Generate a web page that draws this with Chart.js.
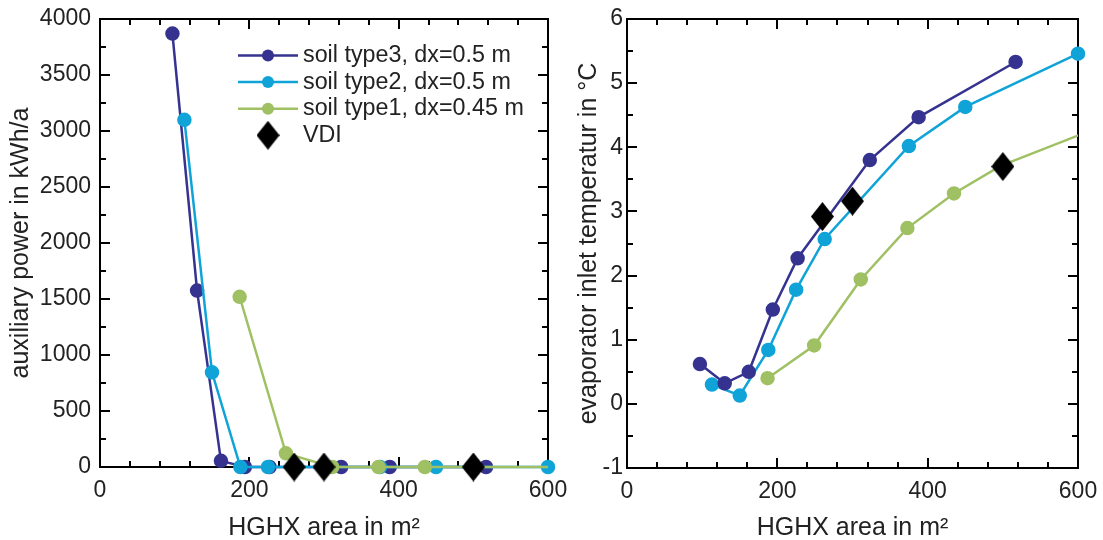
<!DOCTYPE html>
<html>
<head>
<meta charset="utf-8">
<script src="https://cdn.jsdelivr.net/npm/chart.js@4.4.1/dist/chart.umd.min.js"></script>
<style>
  body { margin: 0; background: #fff; }
  #left-box { position: absolute; left: 0; top: 0; width: 580px; height: 540px; }
  #right-box { position: absolute; left: 560px; top: 0; width: 543px; height: 540px; }
</style>
</head>
<body>
<div id="left-box"><canvas id="aux-power"></canvas></div>
<div id="right-box"><canvas id="evap-temp"></canvas></div>
<script>
// HGHX area (m2) per simulation run
const areaType3 = [97, 130, 162, 194, 227, 323, 388, 517];
const areaType2 = [113, 150, 188, 225, 263, 375, 450, 600];
const areaType1 = [187, 249, 311, 373, 435, 497, 621];
const areaVdi = [260, 300, 500];

// auxiliary power in kWh/a
const auxType3 = [3870, 1575, 55, 0, 0, 0, 0, 0];
const auxType2 = [3100, 845, 0, 0, 0, 0, 0, 0];
const auxType1 = [1520, 122, 0, 0, 0, 0, 0];
const auxVdi = [0, 0, 0];

// evaporator inlet temperature in degC
const tempType3 = [0.62, 0.32, 0.50, 1.47, 2.27, 3.80, 4.47, 5.33];
const tempType2 = [0.30, 0.13, 0.84, 1.78, 2.57, 4.02, 4.63, 5.46];
const tempType1 = [0.40, 0.91, 1.94, 2.74, 3.28, 3.71, 4.28];
const tempVdi = [2.92, 3.16, 3.70];

const labels = ['soil type3, dx=0.5 m', 'soil type2, dx=0.5 m', 'soil type1, dx=0.45 m', 'VDI'];
const xTicks = [0, 200, 400, 600];

const FONT = '"Liberation Sans", Arial, sans-serif';
const colors = ['#35338f', '#10a3d8', '#9fc063'];

function makeDiamond(w, h) {
  const c = document.createElement('canvas');
  c.width = w; c.height = h;
  const g = c.getContext('2d');
  g.fillStyle = '#000';
  g.beginPath();
  g.moveTo(w / 2, 0); g.lineTo(w, h / 2); g.lineTo(w / 2, h); g.lineTo(0, h / 2);
  g.closePath();
  g.fill();
  return c;
}
const diamond = makeDiamond(23, 29);

const zip = (xs, ys) => xs.map((x, i) => ({x: x, y: ys[i]}));

function lineSet(label, color, xs, ys, order) {
  return {
    label: label,
    data: zip(xs, ys),
    showLine: true,
    borderColor: color,
    backgroundColor: color,
    pointBackgroundColor: color,
    pointBorderColor: color,
    borderWidth: 2.5,
    pointRadius: 6,
    pointHoverRadius: 6,
    order: order,
    clip: false
  };
}

function vdiSet(ys) {
  return {label: labels[3], data: zip(areaVdi, ys), pointStyle: diamond, pointRadius: 12, order: 0, clip: false};
}

// box with inward ticks on all four sides
const frameTicks = {
  id: 'frameTicks',
  beforeDatasetsDraw(chart, args, opts) {
    const {ctx, chartArea: {left, right, top, bottom}, scales: {x, y}} = chart;
    const isMajor = (v, m) => Math.abs(v / m - Math.round(v / m)) < 1e-6;
    ctx.save();
    ctx.strokeStyle = '#000';
    ctx.lineWidth = 2;
    ctx.strokeRect(left, top, right - left, bottom - top);
    ctx.beginPath();
    for (let v = x.min; v <= x.max + 1e-9; v += opts.xMinor) {
      const px = Math.round(x.getPixelForValue(v));
      const len = isMajor(v, opts.xMajor) ? 10 : 6;
      ctx.moveTo(px, bottom); ctx.lineTo(px, bottom - len);
      ctx.moveTo(px, top); ctx.lineTo(px, top + len);
    }
    for (let v = y.min; v <= y.max + 1e-9; v += opts.yMinor) {
      const py = Math.round(y.getPixelForValue(v));
      const len = isMajor(v, opts.yMajor) ? 10 : 6;
      ctx.moveTo(left, py); ctx.lineTo(left + len, py);
      ctx.moveTo(right, py); ctx.lineTo(right - len, py);
    }
    ctx.stroke();
    ctx.restore();
  }
};

// legend drawn inside the plot: line + dot sample, or the diamond
const insideLegend = {
  id: 'insideLegend',
  afterDatasetsDraw(chart, args, opts) {
    if (!opts.display) return;
    const {ctx} = chart;
    ctx.save();
    ctx.font = '23.3px ' + FONT;
    ctx.textBaseline = 'middle';
    labels.forEach((text, i) => {
      const ds = chart.data.datasets.find(d => d.label === text);
      const y = opts.top + i * opts.rowHeight;
      const x0 = opts.left;
      if (ds.showLine) {
        ctx.strokeStyle = ds.borderColor;
        ctx.lineWidth = ds.borderWidth;
        ctx.beginPath(); ctx.moveTo(x0, y); ctx.lineTo(x0 + 60, y); ctx.stroke();
        ctx.fillStyle = ds.pointBackgroundColor;
        ctx.beginPath(); ctx.arc(x0 + 30, y, 6, 0, Math.PI * 2); ctx.fill();
      } else {
        ctx.drawImage(diamond, x0 + 30 - diamond.width / 2, y - diamond.height / 2);
      }
      ctx.fillStyle = '#222';
      ctx.fillText(text, x0 + 65, y);
    });
    ctx.restore();
  }
};

function xScale(height) {
  return {
    type: 'linear',
    min: 0, max: 600,
    afterBuildTicks: s => { s.ticks = xTicks.map(v => ({value: v})); },
    afterFit: s => { s.height = height; s.paddingLeft = 0; s.paddingRight = 0; },
    grid: {display: false, drawTicks: false},
    border: {display: false},
    ticks: {font: {family: FONT, size: 23}, color: '#222', padding: 10, maxRotation: 0},
    title: {display: true, text: 'HGHX area in m²', font: {family: FONT, size: 25}, color: '#222', padding: {top: 0, bottom: -3}}
  };
}

function yScale(min, max, step, width, pad, title, titlePad) {
  return {
    type: 'linear',
    min: min, max: max,
    afterFit: s => { s.width = width; s.paddingTop = 0; s.paddingBottom = 0; },
    grid: {display: false, drawTicks: false},
    border: {display: false},
    ticks: {stepSize: step, font: {family: FONT, size: 23}, color: '#222', padding: pad, callback: v => String(v)},
    title: {display: true, text: title, font: {family: FONT, size: 25}, color: '#222', padding: {top: titlePad, bottom: 0}}
  };
}

Chart.defaults.animation = false;

const greenAux = lineSet(labels[2], colors[2], areaType1, auxType1, 1);
greenAux.clip = {left: false, top: false, right: 0, bottom: false};

new Chart(document.getElementById('aux-power'), {
  type: 'scatter',
  data: {
    datasets: [
      vdiSet(auxVdi),
      greenAux,
      lineSet(labels[1], colors[1], areaType2, auxType2, 2),
      lineSet(labels[0], colors[0], areaType3, auxType3, 3)
    ]
  },
  options: {
    responsive: true,
    maintainAspectRatio: false,
    layout: {padding: {top: 19, right: 32, left: 0, bottom: 0}},
    scales: {
      x: xScale(73),
      y: yScale(0, 4000, 500, 100, 9, 'auxiliary power in kWh/a', 6)
    },
    plugins: {
      legend: {display: false},
      tooltip: {enabled: false},
      frameTicks: {xMinor: 40, xMajor: 200, yMinor: 250, yMajor: 500},
      insideLegend: {display: true, left: 238, top: 55.5, rowHeight: 26.6}
    }
  },
  plugins: [frameTicks, insideLegend]
});

const greenTemp = lineSet(labels[2], colors[2], areaType1, tempType1, 3);
greenTemp.clip = {left: false, top: false, right: 0, bottom: false};

new Chart(document.getElementById('evap-temp'), {
  type: 'scatter',
  data: {
    datasets: [
      vdiSet(tempVdi),
      lineSet(labels[0], colors[0], areaType3, tempType3, 1),
      lineSet(labels[1], colors[1], areaType2, tempType2, 2),
      greenTemp
    ]
  },
  options: {
    responsive: true,
    maintainAspectRatio: false,
    layout: {padding: {top: 19, right: 25, left: 0, bottom: 0}},
    scales: {
      x: xScale(72),
      y: yScale(-1, 6, 1, 67, 4, 'evaporator inlet temperatur in °C', 14)
    },
    plugins: {
      legend: {display: false},
      tooltip: {enabled: false},
      frameTicks: {xMinor: 40, xMajor: 200, yMinor: 0.5, yMajor: 1},
      insideLegend: {display: false}
    }
  },
  plugins: [frameTicks, insideLegend]
});
</script>
</body>
</html>
